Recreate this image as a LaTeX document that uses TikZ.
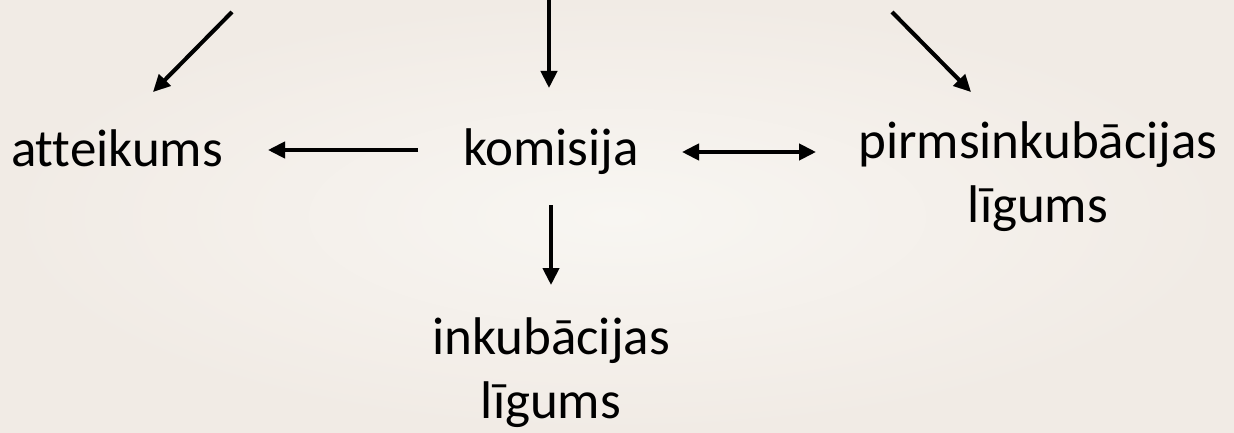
\documentclass[tikz,border=0pt]{standalone}
\usepackage{fontspec}
\setmainfont{Carlito}[Ligatures={NoCommon,NoRequired,NoContextual}]
\usetikzlibrary{arrows.meta}
\definecolor{bgin}{RGB}{248,246,242}
\definecolor{bgout}{RGB}{241,235,229}
\tikzset{
  lbl/.style={font=\fontsize{53}{63.5}\selectfont, align=center, inner sep=0pt, text=black, anchor=base},
  arr/.style={line width=4pt, -{Triangle[length=17pt,width=16pt]}, black},
  darr/.style={line width=4pt, {Triangle[length=17pt,width=16pt]}-{Triangle[length=17pt,width=16pt]}, black},
  shd/.style={line width=4pt, black, opacity=0.18, -{Triangle[length=17pt,width=16pt]}},
  dshd/.style={line width=4pt, black, opacity=0.18, {Triangle[length=17pt,width=16pt]}-{Triangle[length=17pt,width=16pt]}}
}
\begin{document}
\begin{tikzpicture}[x=1pt,y=-1pt]
\useasboundingbox (0,0) rectangle (1234,433);
\shade[inner color=bgin, outer color=bgout] (0,0) rectangle (1234,433);

% base anchor of a two-line node is the baseline of its last line
\node[lbl] (att) at (117,166) {atteikums};
\node[lbl] (kom) at (551,165) {komisija};
\node[lbl] (pirm) at (1038,222) {pirmsinkubācijas\\līgums};
\node[lbl] (ink) at (551,418) {inkubācijas\\līgums};

\coordinate (a1s) at (232,12);
\coordinate (a1e) at (153,92);
\coordinate (a2s) at (549,0);
\coordinate (a2e) at (549,88);
\coordinate (a3s) at (892,12);
\coordinate (a3e) at (971,92);
\coordinate (hls) at (418,150);
\coordinate (hle) at (268,150);
\coordinate (dl) at (682,152);
\coordinate (dr) at (816,152);
\coordinate (vbs) at (551,205);
\coordinate (vbe) at (551,285);

% shadows
\begin{scope}[shift={(2,3)}]
\draw[shd] (a1s) -- (a1e);
\draw[shd] (a2s) -- (a2e);
\draw[shd] (a3s) -- (a3e);
\draw[shd] (hls) -- (hle);
\draw[dshd] (dl) -- (dr);
\draw[shd] (vbs) -- (vbe);
\end{scope}

\draw[arr] (a1s) -- (a1e);
\draw[arr] (a2s) -- (a2e);
\draw[arr] (a3s) -- (a3e);
\draw[arr] (hls) -- (hle);
\draw[darr] (dl) -- (dr);
\draw[arr] (vbs) -- (vbe);
\end{tikzpicture}
\end{document}
